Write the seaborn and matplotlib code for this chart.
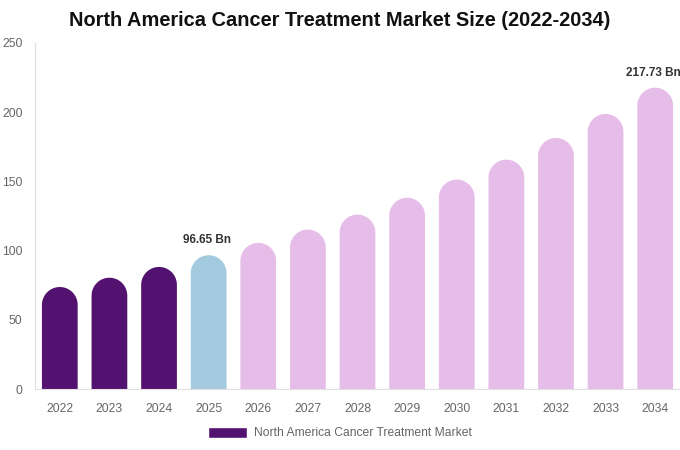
import pandas as pd
import numpy as np
import matplotlib.pyplot as plt
import seaborn as sns
from matplotlib.patches import Polygon, Patch

# ====================================
# DATA
# ====================================

years = ["2022", "2023", "2024", "2025", "2026", "2027", "2028",
         "2029", "2030", "2031", "2032", "2033", "2034"]
market_size = [73.7, 80.4, 88.2, 96.65, 105.6, 115.2, 126.0,
               138.2, 151.3, 165.7, 181.4, 198.7, 217.73]
labels = {"2025": "96.65 Bn", "2034": "217.73 Bn"}

bar_colors = ["#53126f"] * 3 + ["#a3cadf"] + ["#e6bde9"] * 9

df = pd.DataFrame({"Year": years, "Size": market_size})

# ====================================
# PLOT
# ====================================

sns.set_theme(style="white")
plt.rcParams["font.family"] = ["Liberation Sans", "DejaVu Sans"]

fig = plt.figure(figsize=(6.8, 4.5), dpi=100)
ax = fig.add_axes([35 / 680, 1 - 389 / 450, 645 / 680, 346 / 450])

sns.barplot(data=df, x="Year", y="Size", hue="Year", palette=bar_colors,
            saturation=1, legend=False, width=0.72, ax=ax)

ax.set_xlim(-0.5, 12.5)
ax.set_ylim(0, 250)

# rounded tops: swap each bar for a bar with a half-circle cap
fig.canvas.draw()
px_per_x = ax.transData.transform((1, 0))[0] - ax.transData.transform((0, 0))[0]
px_per_y = ax.transData.transform((0, 1))[1] - ax.transData.transform((0, 0))[1]
aspect = px_per_x / px_per_y

t = np.linspace(np.pi, 0, 40)
for bar in list(ax.patches):
    x, w, h = bar.get_x(), bar.get_width(), bar.get_height()
    r = w / 2
    ry = r * aspect
    color = bar.get_facecolor()
    bar.remove()
    cap_x = x + r + r * np.cos(t)
    cap_y = h - ry + ry * np.sin(t)
    xs = np.concatenate([[x], cap_x, [x + w]])
    ys = np.concatenate([[0], cap_y, [0]])
    ax.add_patch(Polygon(np.column_stack([xs, ys]), closed=True,
                         facecolor=color, edgecolor="none"))

for i, yr in enumerate(years):
    if yr in labels:
        ax.text(i - 0.03, market_size[i] + 6.5, labels[yr], ha="center", va="bottom",
                fontsize=8.5, fontweight="bold", color="#333333", clip_on=False)

ax.set_yticks([0, 50, 100, 150, 200, 250])
ax.tick_params(axis="both", labelsize=8.7, colors="#666666", length=0)
ax.tick_params(axis="x", pad=10)
ax.tick_params(axis="y", pad=9)
ax.set_xlabel("")
ax.set_ylabel("")

for side in ["top", "right"]:
    ax.spines[side].set_visible(False)
for side in ["left", "bottom"]:
    ax.spines[side].set_color("#e0e0e0")
    ax.spines[side].set_linewidth(0.8)

fig.suptitle("North America Cancer Treatment Market Size (2022-2034)",
             x=340 / 680, y=1 - 21 / 450, va="center",
             fontsize=14.4, fontweight="bold", color="#111111")

fig.legend(handles=[Patch(facecolor="#53126f", label="North America Cancer Treatment Market")],
           loc="center", bbox_to_anchor=(340 / 680, 1 - 433 / 450), frameon=False,
           fontsize=8.7, labelcolor="#666666", handlelength=3.2, handleheight=1.1,
           handletextpad=0.55)

fig.savefig("out.png", dpi=100)
